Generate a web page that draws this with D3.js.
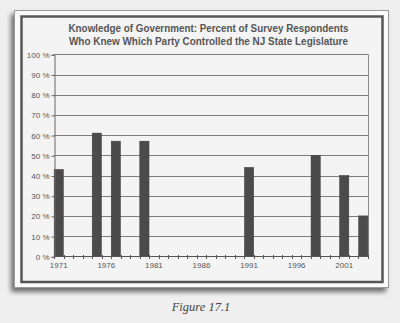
<!DOCTYPE html>
<html>
<head>
<meta charset="utf-8">
<script src="https://cdn.jsdelivr.net/npm/d3@7/dist/d3.min.js"></script>
<style>
  html, body { margin: 0; padding: 0; background: #efefef; }
  svg { display: block; }
</style>
</head>
<body>
<svg id="chart" width="400" height="323"></svg>
<script>
// Survey years on the category axis (one band per year)
const years = [1971, 1972, 1973, 1974, 1975, 1976, 1977, 1978, 1979, 1980,
  1981, 1982, 1983, 1984, 1985, 1986, 1987, 1988, 1989, 1990,
  1991, 1992, 1993, 1994, 1995, 1996, 1997, 1998, 1999, 2000,
  2001, 2002, 2003];
// Years with a survey, and the percent who knew which party controlled the legislature
const surveyYears = [1971, 1975, 1977, 1980, 1991, 1998, 2001, 2003];
const percentKnew = [43, 61, 57, 57, 44, 50, 40, 20];
// Axis labels
const xTickLabels = [1971, 1976, 1981, 1986, 1991, 1996, 2001];
const yTickValues = [0, 10, 20, 30, 40, 50, 60, 70, 80, 90, 100];
const titleLines = [
  "Knowledge of Government: Percent of Survey Respondents",
  "Who Knew Which Party Controlled the NJ State Legislature"
];
const caption = "Figure 17.1";

const svg = d3.select("#chart");

// Drop shadow for the framed panel
const defs = svg.append("defs");
const shadow = defs.append("filter").attr("id", "panelShadow")
  .attr("x", "-10%").attr("y", "-10%").attr("width", "120%").attr("height", "120%");
shadow.append("feDropShadow")
  .attr("dx", -3).attr("dy", 4).attr("stdDeviation", 2.5)
  .attr("flood-color", "#000").attr("flood-opacity", 0.55);

// Outer white card with thin grey border
svg.append("rect")
  .attr("x", 14.5).attr("y", 10.5).attr("width", 374).attr("height", 277)
  .attr("fill", "#fbfbfb").attr("stroke", "#9a9a9a").attr("stroke-width", 1)
  .attr("filter", "url(#panelShadow)");
// Inner dark frame
svg.append("rect")
  .attr("x", 21.5).attr("y", 16.5).attr("width", 361).attr("height", 265.5)
  .attr("fill", "#f4f4f4").attr("stroke", "#555").attr("stroke-width", 2.5);

// Title
const title = svg.append("g").attr("font-family", "'Liberation Sans Narrow', 'Liberation Sans', Arial, sans-serif")
  .attr("font-weight", "bold").attr("font-size", 10.5).attr("fill", "#555")
  .attr("text-anchor", "middle");
titleLines.forEach((t, i) => {
  title.append("text")
    .attr("x", 208.5).attr("y", 32 + i * 12.8)
    .attr("textLength", i === 0 ? 280 : 279)
    .attr("lengthAdjust", "spacingAndGlyphs")
    .text(t);
});

// Plot area
const plot = { left: 54, right: 368, top: 54.3, bottom: 256.3 };

const x = d3.scaleBand()
  .domain(years)
  .range([plot.left, plot.right])
  .paddingInner(0.03)
  .paddingOuter(0.015);

const y = d3.scaleLinear()
  .domain([0, 100])
  .range([plot.bottom, plot.top]);

// Horizontal gridlines
svg.append("g")
  .selectAll("line")
  .data(yTickValues.filter(v => v > 0))
  .join("line")
  .attr("x1", plot.left).attr("x2", plot.right)
  .attr("y1", d => Math.round(y(d)) + 0.5).attr("y2", d => Math.round(y(d)) + 0.5)
  .attr("stroke", "#7d7d7d").attr("stroke-width", 1);

// Right border of the plot area
svg.append("line")
  .attr("x1", plot.right + 0.5).attr("x2", plot.right + 0.5)
  .attr("y1", y(100)).attr("y2", y(0))
  .attr("stroke", "#8a8a8a");

// Bars
svg.append("g")
  .selectAll("rect")
  .data(surveyYears.map((yr, i) => ({ yr, v: percentKnew[i] })))
  .join("rect")
  .attr("x", d => x(d.yr))
  .attr("width", x.bandwidth())
  .attr("y", d => y(d.v))
  .attr("height", d => y(0) - y(d.v))
  .attr("fill", "#4b4b4b")
  .attr("stroke", "#3a3a3a").attr("stroke-width", 0.5);

// Y axis
const yAxis = d3.axisLeft(y)
  .tickValues(yTickValues)
  .tickSize(3)
  .tickPadding(2)
  .tickFormat(d => d + " %");
const gy = svg.append("g")
  .attr("transform", `translate(${plot.left + 0.5},0.5)`)
  .call(yAxis);
gy.select(".domain").attr("stroke", "#666");
gy.selectAll(".tick line").attr("stroke", "#666");
gy.selectAll(".tick text")
  .attr("font-family", "'Liberation Sans', Arial, sans-serif")
  .attr("font-size", 8).attr("fill", "#555");

// X axis: ticks on band boundaries, labels every five years
const gx = svg.append("g").attr("transform", `translate(0,${Math.round(plot.bottom) + 0.5})`);
gx.append("line")
  .attr("x1", plot.left).attr("x2", plot.right)
  .attr("stroke", "#555");
const boundaries = years.map(yr => x(yr) - x.step() * x.paddingInner() / 2)
  .concat([plot.right]);
gx.selectAll("line.tick")
  .data(boundaries)
  .join("line").attr("class", "tick")
  .attr("x1", d => Math.round(d) + 0.5).attr("x2", d => Math.round(d) + 0.5)
  .attr("y1", -1.5).attr("y2", 2.5)
  .attr("stroke", "#555");
gx.selectAll("text")
  .data(xTickLabels)
  .join("text")
  .attr("x", d => x(d) + x.bandwidth() / 2)
  .attr("y", 11.5)
  .attr("text-anchor", "middle")
  .attr("font-family", "'Liberation Sans', Arial, sans-serif")
  .attr("font-size", 8).attr("fill", "#555")
  .text(d => d);

// Caption below the panel
svg.append("text")
  .attr("x", 201).attr("y", 311)
  .attr("text-anchor", "middle")
  .attr("font-family", "'Liberation Serif', 'DejaVu Serif', serif")
  .attr("font-style", "italic")
  .attr("font-size", 12.5).attr("fill", "#444")
  .text(caption);
</script>
</body>
</html>
